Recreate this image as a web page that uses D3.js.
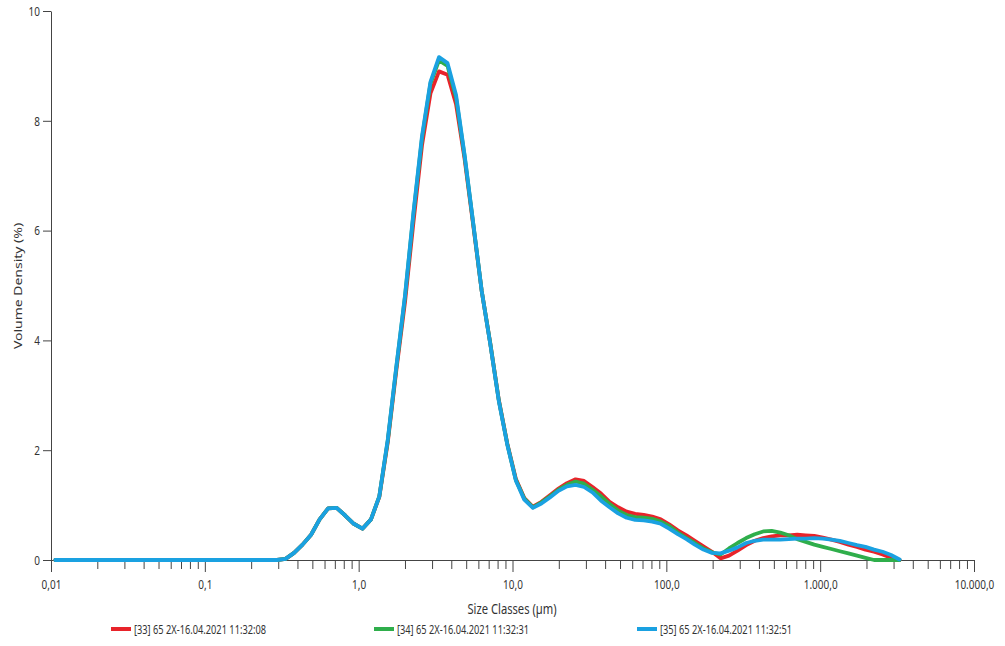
<!DOCTYPE html>
<html>
<head>
<meta charset="utf-8">
<script src="https://cdn.jsdelivr.net/npm/d3@7"></script>
<style>
  body { margin: 0; background: #fff; }
  text { font-family: "Noto Sans", "Open Sans", sans-serif; fill: #333; }
</style>
</head>
<body>
<div class="canvas"></div>
<script>
// size class edges (µm), 100 classes
const sizeEdges = [0.0100, 0.0114, 0.0129, 0.0147, 0.0167, 0.0189, 0.0215, 0.0244, 0.0278, 0.0315,
    0.0358, 0.0407, 0.0463, 0.0526, 0.0597, 0.0679, 0.0771, 0.0876, 0.0995, 0.113,
    0.128, 0.146, 0.166, 0.188, 0.214, 0.243, 0.276, 0.314, 0.357, 0.405,
    0.460, 0.523, 0.594, 0.675, 0.767, 0.872, 0.991, 1.13, 1.28, 1.45,
    1.65, 1.88, 2.13, 2.42, 2.75, 3.12, 3.55, 4.03, 4.58, 5.21,
    5.92, 6.72, 7.64, 8.68, 9.86, 11.2, 12.7, 14.5, 16.4, 18.7,
    21.2, 24.1, 27.4, 31.1, 35.3, 40.1, 45.6, 51.8, 58.9, 66.9,
    76.0, 86.4, 98.1, 111, 127, 144, 163, 186, 211, 240,
    272, 310, 352, 400, 454, 516, 586, 666, 756, 859,
    976, 1110, 1260, 1430, 1630, 1850, 2100, 2390, 2710, 3080, 3500];

// volume density (%) per class
const red33 = [0, 0, 0, 0, 0, 0, 0, 0, 0, 0, 0, 0, 0, 0, 0, 0, 0, 0, 0, 0, 0, 0, 0, 0, 0, 0, 0,
    0.02, 0.13, 0.28, 0.46, 0.74, 0.94, 0.95, 0.81, 0.66, 0.57,
    0.74, 1.15, 2.15, 3.48, 4.7, 6.15, 7.55, 8.5, 8.9, 8.84,
    8.3, 7.3, 6.1, 4.9, 3.95, 2.92, 2.12, 1.48, 1.13, 0.97,
    1.06, 1.18, 1.30, 1.40, 1.47, 1.44, 1.33, 1.21, 1.06, 0.96,
    0.88, 0.84, 0.82, 0.79, 0.74, 0.65, 0.54, 0.45, 0.35, 0.25,
    0.15, 0.03, 0.08, 0.17, 0.27, 0.35, 0.40, 0.43, 0.45, 0.45,
    0.46, 0.45, 0.44, 0.41, 0.37, 0.33, 0.28, 0.24, 0.19, 0.15,
    0.10, 0.04, 0.0];

const green34 = [0, 0, 0, 0, 0, 0, 0, 0, 0, 0, 0, 0, 0, 0, 0, 0, 0, 0, 0, 0, 0, 0, 0, 0, 0, 0, 0,
    0.02, 0.13, 0.28, 0.46, 0.74, 0.94, 0.95, 0.81, 0.66, 0.57,
    0.74, 1.16, 2.18, 3.53, 4.8, 6.3, 7.68, 8.68, 9.1, 9.0,
    8.42, 7.35, 6.13, 4.9, 3.95, 2.91, 2.11, 1.46, 1.12, 0.96,
    1.05, 1.16, 1.28, 1.37, 1.43, 1.39, 1.28, 1.16, 1.02, 0.90,
    0.82, 0.78, 0.77, 0.75, 0.70, 0.62, 0.50, 0.40, 0.31, 0.21,
    0.14, 0.10, 0.21, 0.31, 0.40, 0.47, 0.52, 0.53, 0.50, 0.45,
    0.38, 0.33, 0.28, 0.24, 0.20, 0.16, 0.12, 0.08, 0.04, 0,
    0, 0, 0];

const blue35 = [0, 0, 0, 0, 0, 0, 0, 0, 0, 0, 0, 0, 0, 0, 0, 0, 0, 0, 0, 0, 0, 0, 0, 0, 0, 0, 0,
    0.02, 0.13, 0.28, 0.46, 0.74, 0.94, 0.95, 0.81, 0.66, 0.57,
    0.74, 1.16, 2.2, 3.55, 4.82, 6.33, 7.72, 8.71, 9.16, 9.05,
    8.47, 7.37, 6.14, 4.9, 3.94, 2.9, 2.1, 1.45, 1.1, 0.95,
    1.03, 1.14, 1.26, 1.34, 1.37, 1.33, 1.23, 1.08, 0.96, 0.85,
    0.77, 0.73, 0.72, 0.70, 0.66, 0.57, 0.47, 0.38, 0.28, 0.19,
    0.13, 0.12, 0.17, 0.23, 0.31, 0.35, 0.37, 0.37, 0.37, 0.38,
    0.39, 0.39, 0.40, 0.39, 0.37, 0.35, 0.31, 0.27, 0.24, 0.19,
    0.15, 0.09, 0.01];

const seriesNames = ['[33] 65 2X-16.04.2021 11:32:08', '[34] 65 2X-16.04.2021 11:32:31', '[35] 65 2X-16.04.2021 11:32:51'];
const seriesColors = ['#e8232a', '#2fae4b', '#1aa1e1'];

const majorTicks = [0.01, 0.1, 1, 10, 100, 1000, 10000];
const majorLabels = ['0,01', '0,1', '1,0', '10,0', '100,0', '1.000,0', '10.000,0'];
const yTicks = [0, 2, 4, 6, 8, 10];

// text in the reference is narrowed horizontally
const squeeze = 0.74;

const svg = d3.select('.canvas')
    .append('svg')
    .attr('width', 1005)
    .attr('height', 646);

const margin = { top: 11, left: 51 };
const graphWidth = 923;
const graphHeight = 549;

const graph = svg.append('g')
    .attr('transform', `translate(${margin.left},${margin.top})`);

const x = d3.scaleLog()
    .domain([0.01, 10000])
    .range([0, graphWidth]);

const y = d3.scaleLinear()
    .domain([0, 10])
    .range([graphHeight, 0]);

// minor ticks 2..9 in every decade
const allTicks = [];
majorTicks.forEach((m, i) => {
    allTicks.push(m);
    if (i < majorTicks.length - 1) {
        for (let k = 2; k <= 9; k++) allTicks.push(m * k);
    }
});

const isMajor = d => majorTicks.some(m => Math.abs(m - d) / m < 1e-6);

const xAxis = d3.axisBottom(x)
    .tickValues(allTicks)
    .tickSize(9)
    .tickSizeOuter(0)
    .tickFormat(d => {
        const i = majorTicks.findIndex(m => Math.abs(m - d) / m < 1e-6);
        return i >= 0 ? majorLabels[i] : '';
    });

const yAxis = d3.axisLeft(y)
    .tickValues(yTicks)
    .tickSize(8)
    .tickSizeOuter(0);

const xAxisGroup = graph.append('g')
    .attr('transform', `translate(0, ${graphHeight})`)
    .call(xAxis);

const yAxisGroup = graph.append('g')
    .call(yAxis);

[xAxisGroup, yAxisGroup].forEach(g => {
    g.select('.domain').attr('stroke', '#444');
    g.selectAll('.tick line').attr('stroke', '#444');
    g.selectAll('.tick text')
        .attr('font-family', '"Noto Sans", sans-serif')
        .attr('font-size', 13.5)
        .attr('fill', '#333');
});

// longer ticks on decades
xAxisGroup.selectAll('.tick')
    .filter(isMajor)
    .select('line')
    .attr('y2', 12);

xAxisGroup.selectAll('.tick text')
    .attr('y', 19)
    .attr('transform', `scale(${squeeze},1)`);

yAxisGroup.selectAll('.tick text')
    .attr('x', -11 / squeeze)
    .attr('transform', `scale(${squeeze},1)`);

// series lines, plotted at class midpoints
const series = [red33, green34, blue35].map((vals, i) => ({
    name: seriesNames[i],
    color: seriesColors[i],
    points: vals.map((v, j) => ({ size: Math.sqrt(sizeEdges[j] * sizeEdges[j + 1]), value: v }))
}));

const line = d3.line()
    .x(d => x(d.size))
    .y(d => y(d.value));

graph.selectAll('path.series')
    .data(series)
    .enter()
    .append('path')
    .attr('class', 'series')
    .attr('d', d => line(d.points))
    .attr('fill', 'none')
    .attr('stroke', d => d.color)
    .attr('stroke-width', 3.8)
    .attr('stroke-linejoin', 'round')
    .attr('stroke-linecap', 'round');

// axis titles
svg.append('text')
    .attr('transform', `translate(512, 614) scale(0.8,1)`)
    .attr('text-anchor', 'middle')
    .attr('font-size', 14)
    .text('Size Classes (µm)');

svg.append('text')
    .attr('transform', `translate(22, 286) scale(0.8,1) rotate(-90)`)
    .attr('text-anchor', 'middle')
    .attr('font-size', 14)
    .text('Volume Density (%)');

// legend
const legend = svg.selectAll('g.legend')
    .data(series)
    .enter()
    .append('g')
    .attr('class', 'legend')
    .attr('transform', (d, i) => `translate(${111 + i * 263}, 629)`);

legend.append('line')
    .attr('x1', 0)
    .attr('x2', 20)
    .attr('stroke', d => d.color)
    .attr('stroke-width', 4);

legend.append('text')
    .attr('transform', `translate(23, 4.5) scale(${squeeze},1)`)
    .attr('font-size', 12.5)
    .text(d => d.name);
</script>
</body>
</html>
